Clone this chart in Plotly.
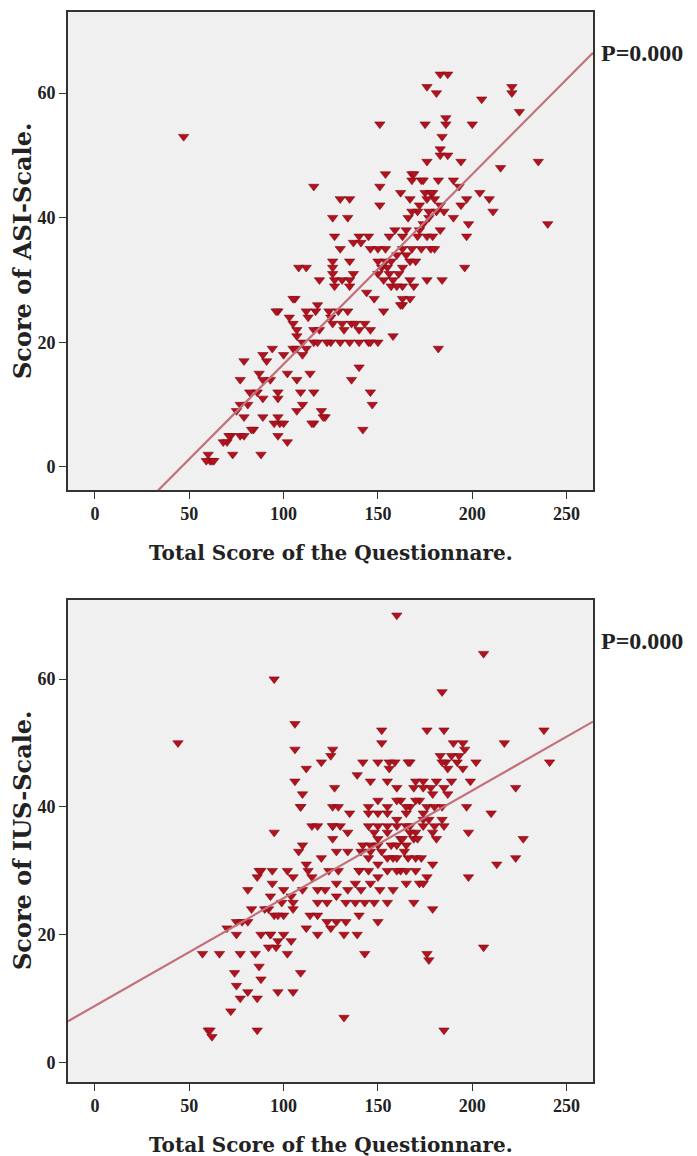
import numpy as np
import plotly.graph_objects as go

# ---------------- data ----------------
asi_total = [
    47,240,235,221,221,225,215,205,183,187,
    176,181,175,186,186,200,184,183,183,187,
    176,194,168,168,173,182,190,193,175,178,
    180,176,197,204,209,194,211,190,198,183,
    197,196,176,184,163,182,151,154,169,174,
    116,151,162,167,179,130,135,151,126,134,
    166,171,181,185,127,140,145,156,159,163,
    171,176,179,130,137,141,146,150,154,163,
    168,173,178,180,108,112,126,135,137,150,
    152,154,156,150,153,155,157,163,167,119,
    127,127,131,135,135,163,144,148,153,163,
    106,97,118,124,129,134,103,113,126,131,
    136,140,143,146,107,110,116,119,125,130,
    135,140,145,150,126,126,105,96,112,117,
    105,107,116,118,123,125,94,89,91,79,
    100,105,107,110,112,102,107,114,87,89,
    93,77,82,86,89,97,97,109,116,77,
    81,75,79,89,97,98,107,110,120,122,
    116,84,72,70,77,79,97,102,73,88,
    60,62,61,59,142,147,146,63,68,71,
    83,95,100,115,121,132,138,146,140,136,
    158,162,167,157,160,167,169,160,165,170,
    172,174,177,165,168,172,177,183,161,158,
]
asi_score = [
    53,39,49,61,60,57,48,59,63,63,
    61,60,55,56,55,55,53,51,50,50,
    49,49,47,46,46,46,46,45,44,44,
    43,43,43,44,43,42,41,40,39,38,
    37,32,30,30,29,19,55,47,47,46,
    45,45,44,43,44,43,43,42,40,40,
    40,41,41,41,37,37,37,37,38,37,
    37,37,37,35,36,36,35,35,35,35,
    35,35,35,35,32,32,32,33,31,33,
    32,33,31,31,30,32,33,32,33,30,
    30,29,30,30,29,27,28,27,25,26,
    27,25,26,25,25,25,24,24,23,23,
    23,22,23,22,21,20,20,22,20,20,
    20,20,20,20,33,31,27,25,25,25,
    23,22,22,20,20,24,19,18,17,17,
    18,19,19,18,19,15,14,15,15,14,
    14,14,12,12,11,12,11,12,12,10,
    10,9,8,8,8,7,9,10,9,8,
    7,6,5,4,5,5,5,4,2,2,
    2,1,1,1,6,10,12,1,4,5,
    6,7,7,7,8,22,23,20,16,14,
    21,26,27,29,29,30,29,34,34,33,
    38,39,40,38,41,42,41,42,31,30,
]

ius_total = [
    44,95,160,206,184,238,241,217,223,210,
    227,223,213,198,206,185,132,86,60,62,
    198,202,177,169,179,176,185,190,195,196,
    183,186,189,192,184,193,167,187,195,199,
    170,174,178,181,185,189,179,187,162,167,
    172,176,180,184,197,174,177,180,184,174,
    167,170,174,179,185,162,165,169,166,170,
    173,162,170,172,176,174,179,181,152,152,
    106,106,120,125,126,142,150,156,159,166,
    156,112,106,139,146,155,127,160,169,174,
    110,109,126,129,145,150,155,160,165,170,
    135,145,150,155,160,165,115,118,126,130,
    134,145,150,155,160,165,95,150,155,163,
    167,171,110,108,126,128,134,142,146,150,
    157,160,120,141,146,152,158,164,88,94,
    102,113,115,124,129,140,145,150,155,160,
    165,94,100,105,110,118,122,128,134,141,
    146,151,158,165,93,99,104,118,123,128,
    133,138,143,148,155,92,95,100,105,114,
    118,123,128,133,140,150,112,118,125,132,
    139,93,100,96,102,104,143,176,109,126,
    87,112,86,81,83,90,97,105,75,78,
    81,70,75,88,93,97,92,57,66,77,
    85,87,109,74,75,88,81,86,77,72,
    97,105,61,140,145,150,155,160,138,148,
]
ius_score = [
    50,60,70,64,58,52,47,50,43,39,
    35,32,31,29,18,5,7,5,5,4,
    36,47,16,25,31,52,52,50,50,49,
    48,47,48,47,47,48,47,46,46,44,
    44,43,43,44,43,44,42,42,41,40,
    41,40,40,40,40,38,38,37,38,39,
    37,36,37,36,37,35,34,35,32,32,
    32,30,30,28,29,28,24,35,52,50,
    53,49,47,48,49,47,47,47,47,47,
    46,46,44,45,44,44,43,43,43,44,
    42,40,40,40,40,41,40,41,40,41,
    39,39,39,39,38,39,37,37,37,37,
    36,37,37,37,37,37,36,35,36,35,
    36,35,34,33,35,33,33,34,34,34,
    34,34,32,33,33,33,32,33,30,30,
    30,30,29,30,30,30,30,31,30,30,
    30,28,27,29,27,27,27,28,27,27,
    28,27,27,28,26,25,26,25,25,26,
    25,25,25,25,25,24,23,23,25,23,
    23,22,22,22,23,22,21,20,21,20,
    20,20,20,18,17,19,17,17,40,37,
    30,31,29,27,24,24,23,24,22,22,
    22,21,20,20,20,19,18,17,17,17,
    17,15,14,14,12,13,11,10,10,8,
    11,11,5,30,32,29,32,32,28,36,
]

x_ticks = [0, 50, 100, 150, 200, 250]
y_ticks = [0, 20, 40, 60]
x_title = "Total Score of the Questionnare."
y_titles = ["Score of ASI-Scale.", "Score of IUS-Scale."]
p_labels = ["P=0.000", "P=0.000"]

# ---------------- styling ----------------
W, H = 697, 1156
MARK = "#b3111d"
MARK_EDGE = "#7c0c14"
LINE = "#c2707a"
FRAME = "#333333"
SERIF = "Liberation Serif"
TITLE_FONT = "DejaVu Serif"

x_range = [-14.3, 264]
y_ranges = [[-3.7, 73], [-3.1, 72.4]]

# pixel boxes of plot frames: (left, right, top, bottom)
boxes = [(68, 593, 12, 490), (68, 593, 600, 1082)]

fig = go.Figure()

datasets = [(asi_total, asi_score), (ius_total, ius_score)]
for i, (xs, ys) in enumerate(datasets):
    xa = "x" if i == 0 else "x2"
    ya = "y" if i == 0 else "y2"
    fig.add_trace(go.Scatter(
        x=xs, y=ys, mode="markers", xaxis=xa, yaxis=ya,
        marker=dict(symbol="triangle-down", size=9, color=MARK,
                    line=dict(color=MARK_EDGE, width=0.6)),
        showlegend=False, hoverinfo="skip"))
    slope, icpt = np.polyfit(np.array(xs, float), np.array(ys, float), 1)
    lx = np.array(x_range)
    fig.add_trace(go.Scatter(
        x=lx, y=icpt + slope * lx, mode="lines", xaxis=xa, yaxis=ya,
        line=dict(color=LINE, width=2.2), showlegend=False, hoverinfo="skip"))

def axis_common():
    return dict(showgrid=False, zeroline=False, showline=True, mirror=True,
                linecolor=FRAME, linewidth=1.6, ticks="outside", ticklen=7,
                tickwidth=1.2, tickcolor=FRAME,
                tickfont=dict(family=SERIF, size=18, color="#222222", weight="bold"))

layout = dict(width=W, height=H, margin=dict(l=0, r=0, t=0, b=0),
              paper_bgcolor="white", plot_bgcolor="#f0f0f0", showlegend=False)

annotations = []
for i, (l, r, t, b) in enumerate(boxes):
    xk = "xaxis" if i == 0 else "xaxis2"
    yk = "yaxis" if i == 0 else "yaxis2"
    xd = [l / W, r / W]
    yd = [1 - b / H, 1 - t / H]
    layout[xk] = dict(axis_common(), domain=xd, range=x_range, tickvals=x_ticks,
                      anchor="y" if i == 0 else "y2")
    layout[yk] = dict(axis_common(), domain=yd, range=y_ranges[i], tickvals=y_ticks,
                      anchor="x" if i == 0 else "x2")
    cx = (l + r) / 2 / W
    annotations.append(dict(text=x_title, x=cx, y=1 - (b + 63) / H, xref="paper", yref="paper",
                            showarrow=False, xanchor="center", yanchor="middle",
                            font=dict(family=TITLE_FONT, size=20, color="#222222", weight="bold")))
    annotations.append(dict(text=y_titles[i], x=22 / W, y=1 - (t + b) / 2 / H, xref="paper",
                            yref="paper", showarrow=False, textangle=-90,
                            xanchor="center", yanchor="middle",
                            font=dict(family=TITLE_FONT, size=24, color="#222222", weight="bold")))
    annotations.append(dict(text=p_labels[i], x=599 / W, y=1 - (t + 41) / H, xref="paper",
                            yref="paper", showarrow=False, xanchor="left", yanchor="middle",
                            font=dict(family=SERIF, size=24, color="#222222", weight="bold")))
layout["annotations"] = annotations
fig.update_layout(**layout)

fig.write_html("out.html", config={"displayModeBar": False},
               post_script="document.body.style.margin='0';")
